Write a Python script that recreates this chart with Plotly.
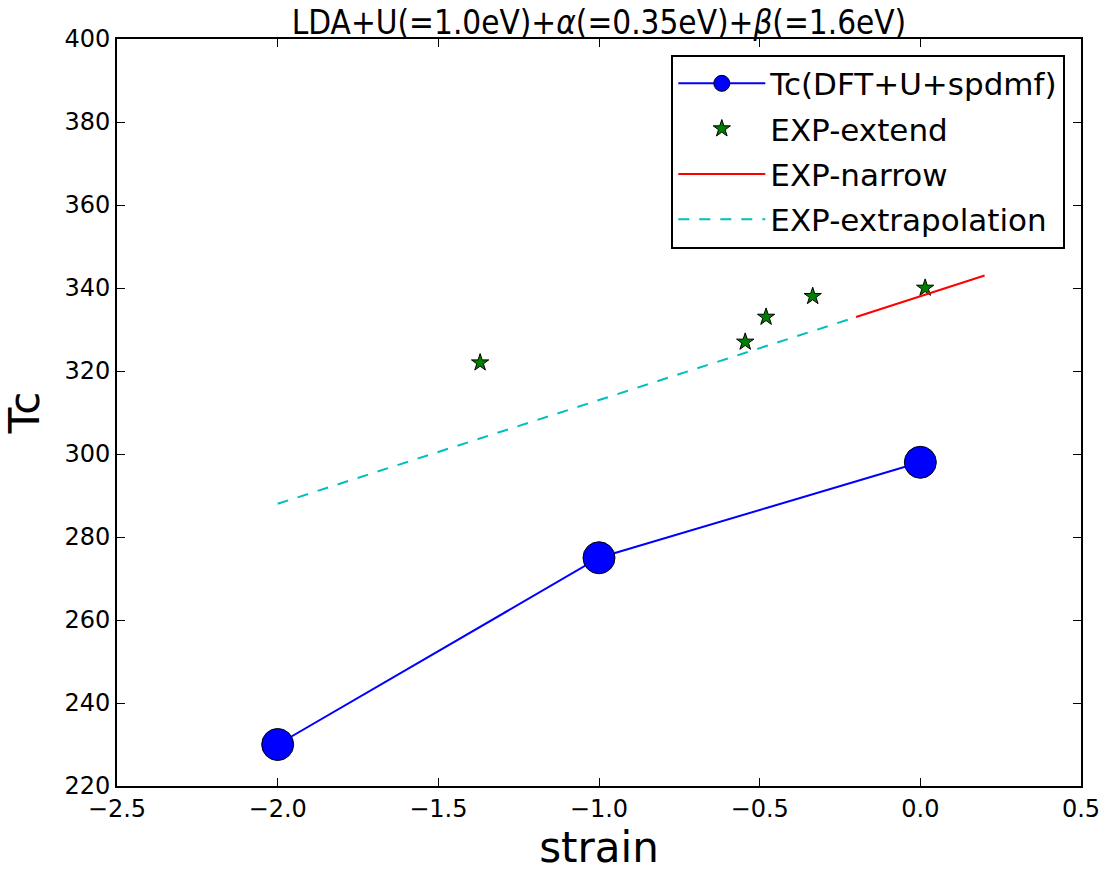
import plotly.graph_objects as go

strain_dft = [-2.0, -1.0, 0.0]
tc_dft = [230, 275, 298]

strain_extend = [-1.37, -0.545, -0.48, -0.335, 0.015]
tc_extend = [322, 327, 333, 338, 340]

strain_narrow = [-0.2, 0.2]
tc_narrow = [333, 343]

strain_extrap = [-2.0, -0.2]
tc_extrap = [288, 333]

x_ticks = [-2.5, -2.0, -1.5, -1.0, -0.5, 0.0, 0.5]
y_ticks = [220, 240, 260, 280, 300, 320, 340, 360, 380, 400]

FONT = "DejaVu Sans"

fig = go.Figure()
fig.add_trace(go.Scatter(
    x=strain_dft, y=tc_dft, mode="lines+markers", name="Tc(DFT+U+spdmf)",
    line=dict(color="#0000ff", width=2),
    marker=dict(size=32, color="#0000ff", line=dict(color="black", width=1)),
    legendgroup="a"))
fig.add_trace(go.Scatter(
    x=strain_extend, y=tc_extend, mode="markers", name="EXP-extend",
    marker=dict(symbol="star", size=13, color="#007f00", line=dict(color="black", width=1)),
    legendgroup="b"))
fig.add_trace(go.Scatter(
    x=strain_narrow, y=tc_narrow, mode="lines", name="EXP-narrow",
    line=dict(color="#ff0000", width=2), legendgroup="c"))
fig.add_trace(go.Scatter(
    x=strain_extrap, y=tc_extrap, mode="lines", name="EXP-extrapolation",
    line=dict(color="#00bfbf", width=2, dash="11px,10px"), legendgroup="d"))

axis_common = dict(
    showgrid=False, zeroline=False, showline=True, linecolor="black", linewidth=2,
    mirror="allticks", ticks="inside", ticklen=8, tickwidth=1, tickcolor="black",
    tickfont=dict(family=FONT, size=24, color="black"), automargin=False,
)

fig.update_layout(
    width=1107, height=874,
    paper_bgcolor="white", plot_bgcolor="white",
    margin=dict(l=117, r=26, t=39, b=88, autoexpand=False),
    title=dict(text="LDA+U(=1.0eV)+<i>α</i>(=0.35eV)+<i>β</i>(=1.6eV)",
               x=(117 + 1081) / 2 / 1107, xanchor="center", y=1 - 22 / 874, yanchor="middle",
               yref="container",
               font=dict(family="DejaVu Sans Condensed, DejaVu Sans", size=33, color="black")),
    xaxis=dict(range=[-2.5, 0.5], tickvals=x_ticks, ticktext=[f"{v:.1f}".replace("-", "−") for v in x_ticks],
               title=dict(text="strain", font=dict(family=FONT, size=42, color="black"), standoff=10),
               **axis_common),
    yaxis=dict(range=[220, 400], tickvals=y_ticks, ticktext=[str(v) for v in y_ticks],
               title=dict(text="Tc", font=dict(family=FONT, size=42, color="black"), standoff=12),
               **axis_common),
    legend=dict(x=0.575, y=0.979, xanchor="left", yanchor="top",
                bgcolor="white", bordercolor="black", borderwidth=2,
                font=dict(family=FONT, size=31, color="black"),
                traceorder="grouped", tracegroupgap=2, itemwidth=87),
    showlegend=True,
)

fig.write_html("out.html")
